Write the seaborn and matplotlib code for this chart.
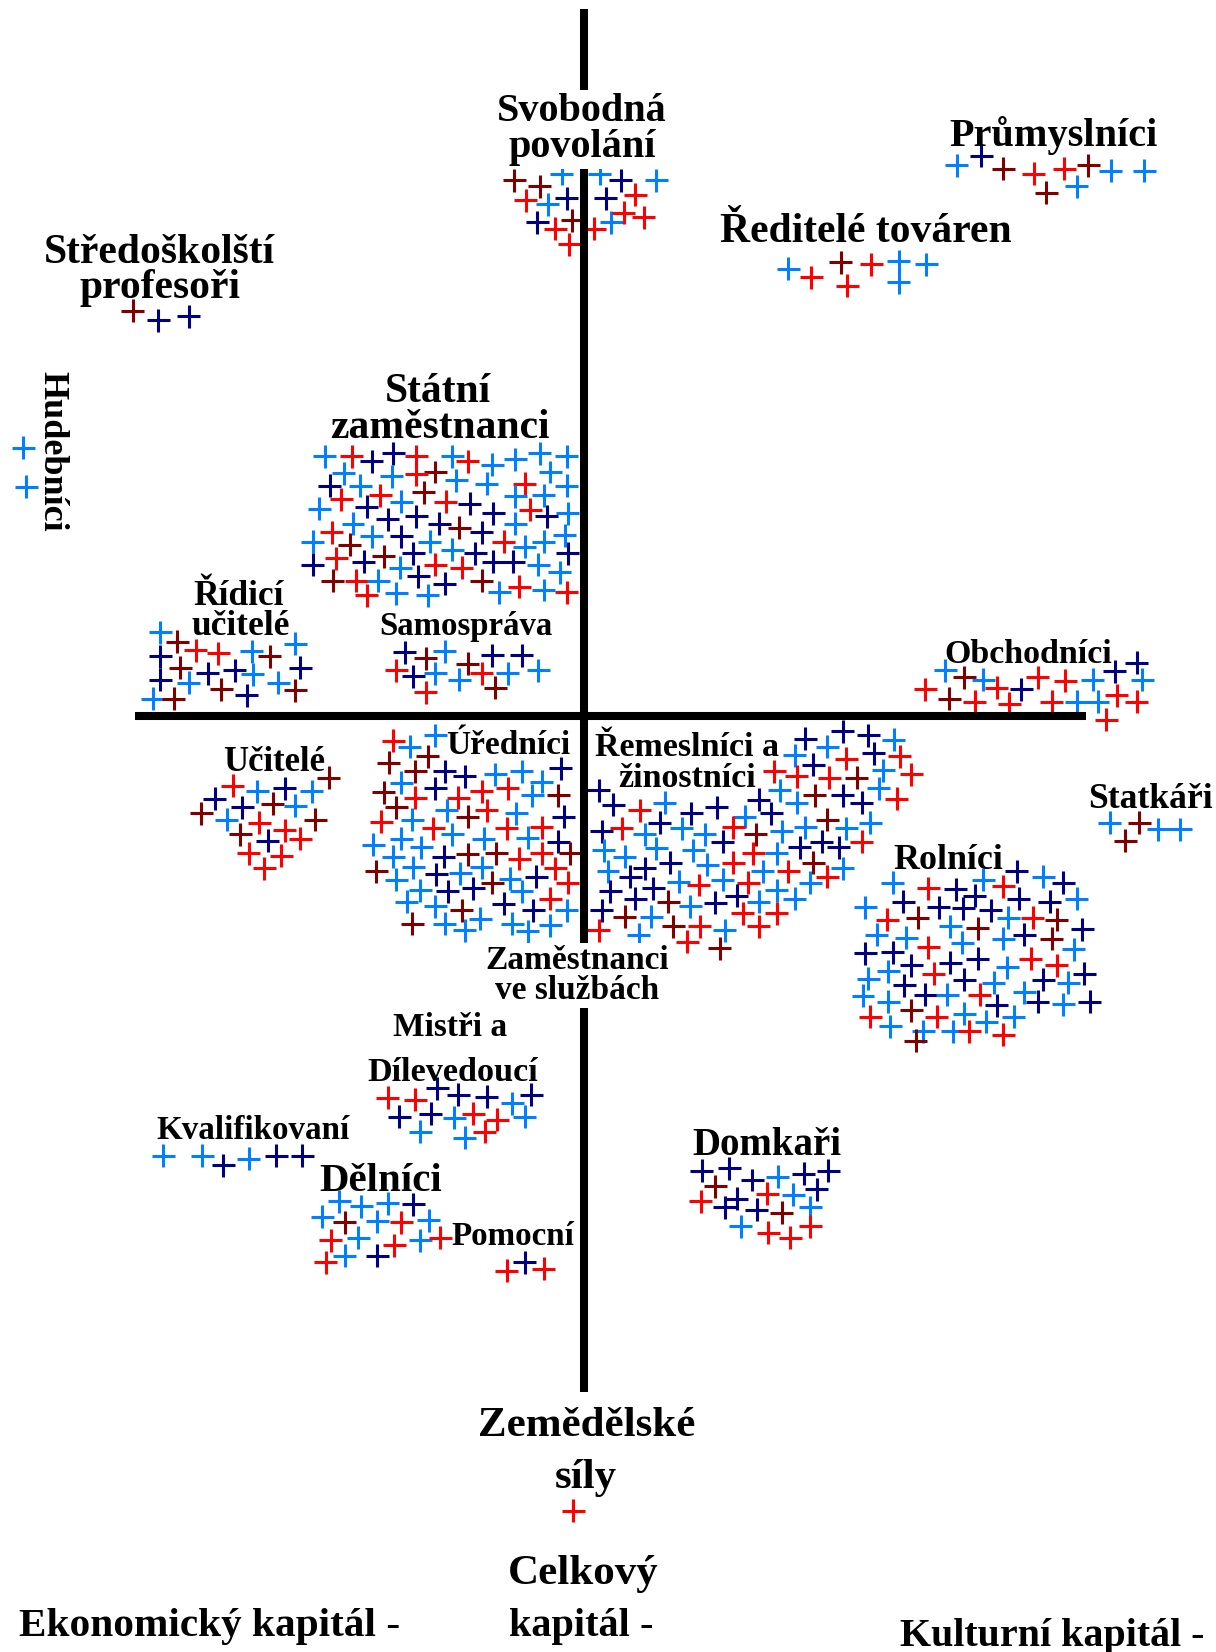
import matplotlib
matplotlib.use("Agg")
import matplotlib.pyplot as plt
import seaborn as sns
import pandas as pd

sns.set_theme(style="white")
plt.rcParams['font.family'] = ['Liberation Serif', 'DejaVu Serif']

COLORS = {"c": "#0080ff", "n": "#000080", "r": "#ff0000", "d": "#800000"}

# ---------------- data (positions) ----------------
svob_x = [488, 512, 533, 569, 589, 623, 499, 520, 538, 575, 603, 543, 510, 527, 564, 580, 592, 611, 540]
svob_y = [171, 177, 165, 165, 171, 171, 190, 194, 188, 188, 185, 209, 211, 217, 217, 211, 202, 206, 232]
svob_c = "ddccncrcnnrdnrrcrrr"

prum_x = [908, 931, 952, 981, 1010, 1033, 993, 1022, 1054, 1086]
prum_y = [157, 148, 160, 165, 160, 157, 183, 177, 162, 162]
prum_c = "cndrrddccc"

redit_x = [748, 770, 798, 804, 827, 853, 853, 879]
redit_y = [255, 263, 249, 271, 251, 248, 268, 251]
redit_c = "crdrrccc"

stred_x = [126, 150, 179]
stred_y = [295, 304, 300]
stred_c = "dnn"

hudeb_x = [22, 25]
hudeb_y = [425, 462]
hudeb_c = "cc"

statni_x = [308, 334, 353, 373, 395, 429, 444, 467, 489, 512, 538,
            326, 413, 395, 372, 433, 462, 498, 522, 538, 313, 342,
            324, 361, 402, 423, 446, 381, 489, 516, 503, 539,
            303, 348, 368, 395, 335, 417, 468, 436, 489, 519,
            315, 297, 332, 353, 381, 408, 457, 478, 536, 429, 392, 498, 516,
            319, 297, 345, 364, 413, 438, 451, 468, 487, 511, 539, 531, 380,
            316, 338, 348, 359, 397, 422, 457, 493, 376, 406, 474, 516, 538, 444]
statni_y = [433, 433, 438, 430, 433, 433, 438, 441, 436, 430, 433,
            449, 448, 450, 452, 456, 459, 459, 448, 461, 461, 461,
            474, 470, 467, 476, 478, 476, 471, 470, 484, 487,
            483, 481, 493, 490, 497, 497, 487, 501, 497, 490,
            505, 514, 517, 509, 509, 514, 505, 514, 508, 522, 525, 519, 514,
            530, 536, 533, 528, 536, 539, 525, 533, 533, 536, 525, 543, 539,
            551, 551, 565, 551, 547, 554, 551, 557, 563, 565, 562, 560, 562, 569]
statni_c = ("crnnrcrcccc"
            "cdrcccrccn" "c"
            "rrdrncccrc"
            "cnnncnndcn"
            "rcdcncnrccncc"
            "rnndrrnnncncc"
            "drrcnndrccccr")

ridici_x = [152, 168, 186, 207, 239, 256, 280, 152, 171, 197, 223, 240, 285,
            152, 179, 210, 264, 145, 165, 234, 280]
ridici_y = [600, 609, 617, 620, 618, 623, 611, 623, 634, 639, 636, 640, 634,
            645, 648, 654, 648, 663, 663, 660, 655]
ridici_c = "cdrrcdcndnncnncdccdnd"

samo_x = [384, 404, 422, 467, 495, 376, 392, 413, 444, 457, 436, 482, 511, 404, 470]
samo_y = [619, 625, 618, 622, 622, 636, 642, 639, 630, 639, 645, 639, 636, 657, 653]
samo_c = "ndcnnrncdrcccrd"

obch_x = [897, 915, 878, 901, 933, 925, 946, 958, 969, 985, 1011, 998, 1037, 1022,
          1042, 1058, 1079, 1084, 1060, 1079, 1050]
obch_y = [636, 643, 654, 663, 645, 666, 653, 668, 654, 643, 646, 666, 645, 666,
          666, 637, 629, 645, 660, 666, 683]
obch_c = "cdrdcrrrnrrrcccnncrrr"

statk_x = [1053, 1081, 1068, 1099, 1120]
statk_y = [781, 781, 798, 787, 787]
statk_c = "cddcc"

ucit_x = [221, 204, 244, 270, 296, 312, 191, 230, 259, 215, 280, 246, 299, 270,
          228, 254, 285, 236, 267, 251]
ucit_y = [746, 758, 751, 748, 751, 738, 772, 766, 763, 778, 765, 781, 778, 788,
          792, 798, 796, 810, 812, 824]
ucit_c = "rncncddndccrdrdnrrrr"

ured_x = [373, 389, 413, 369, 406, 394, 422, 441, 470, 495, 532,
          381, 364, 413, 394, 435, 457, 482, 514, 505, 530,
          376, 462, 424, 490, 535,
          362, 391, 411, 444, 429, 481, 514,
          354, 381, 400, 459, 501, 530,
          373, 421, 444, 471, 493, 514, 541,
          357, 392, 437, 457, 527,
          376, 414, 449, 467, 484, 509, 539,
          399, 425, 495, 386, 522, 478,
          413, 438, 456, 506, 538,
          391, 422, 441, 486, 501, 522]
ured_y = [703, 709, 698, 724, 718, 732, 732, 737, 735, 732, 729,
          743, 752, 748, 757, 757, 751, 748, 742, 755, 755,
          766, 769, 769, 772, 775,
          780, 778, 786, 775, 792, 786, 785,
          802, 796, 804, 796, 795, 799,
          813, 813, 811, 810, 815, 810, 810,
          827, 823, 829, 823, 824,
          835, 830, 843, 838, 834, 832, 838,
          845, 846, 846, 856, 853, 858,
          860, 864, 872, 864, 864,
          877, 877, 883, 877, 884, 878]
ured_c = ("rccdddnnccn"
          "cdnrrrrccd"
          "drccn"
          "rcrdcrr"
          "cccccn"
          "cnddrrd"
          "dcccr"
          "cnndcnr"
          "cnccrn"
          "cdcnc"
          "dccccc")

remes_x = [764, 800, 824, 848, 785, 754, 772, 803, 829, 854,
           735, 756, 787, 813, 838, 865,
           568, 740, 773, 800, 834, 851,
           582, 607, 631, 656, 680, 720, 707, 756, 732, 818,
           571, 590, 626, 612, 647, 669, 696, 717, 742, 764, 785, 803, 826,
           573, 623, 658, 686, 759, 780, 796, 818,
           593, 636, 671, 696, 715, 737, 772, 748, 800,
           577, 612, 598, 644, 663, 686, 710, 724, 769, 785,
           579, 620, 603, 634, 655, 679, 699, 720, 737, 754,
           571, 593, 618, 705, 737,
           568, 606, 639, 664, 688, 720, 652, 683]
remes_y = [701, 694, 698, 702, 709, 717, 726, 720, 715, 718,
           732, 737, 738, 738, 731, 735,
           750, 750, 755, 755, 748, 758,
           764, 769, 762, 772, 766, 759, 775, 762, 772, 762,
           789, 786, 781, 792, 786, 792, 785, 792, 789, 785, 778, 786, 781,
           807, 805, 807, 799, 804, 799, 804, 799,
           813, 819, 821, 819, 810, 810, 819, 827, 824,
           827, 824, 832, 837, 840, 835, 838, 827, 838, 832,
           846, 843, 853, 856, 860, 857, 850, 856, 845, 853,
           864, 870, 870, 867, 867,
           883, 887, 879, 879, 883, 879, 894, 900]
remes_c = ("nnnccenrnr".replace("e", "c")
           + "rrrdcr"
           + "ncdncr"
           + "nrcnnnccnn"
           + "nrncccrdccdcc"
           + "cccnnnnr"
           + "cncrrcdrc"
           + "cnncrcrccr"
           + "nnndcnnccc"
           + "ndcrr"
           + "rcdrcrrd")

roln_x = [847, 881, 907, 933, 952, 965, 990, 1009,
          821, 857, 891, 914, 925, 940, 967, 996, 1022,
          842, 871, 902, 928, 957, 980, 1003, 1027,
          832, 860, 881, 913, 952, 972, 998, 1019,
          821, 847, 865, 902, 928, 956, 978, 1003,
          824, 843, 886, 915, 943, 990, 1014, 1029,
          858, 819, 878, 899, 930, 843, 946, 972, 985, 1009, 1034,
          826, 865, 889, 915, 962,
          845, 876, 904, 920, 936, 952, 869]
roln_y = [838, 843, 844, 835, 841, 827, 832, 838,
          861, 856, 861, 862, 850, 864, 853, 856, 853,
          873, 871, 879, 881, 871, 871, 873, 882,
          887, 890, 899, 895, 891, 887, 891, 901,
          905, 904, 916, 914, 910, 918, 910, 916,
          929, 922, 924, 930, 933, 930, 933, 924,
          935, 945, 944, 944, 944, 951, 954, 942, 951, 953, 951,
          965, 959, 965, 962, 965,
          974, 979, 979, 979, 970, 982, 988]
roln_c = ("crncrncn"
          "cnnnnnnnc"
          "rdcdcrdn"
          "ccrccndc"
          "nnnnncrr"
          "ccrncncn"
          "ncncrcncncn"
          "rdrcc"
          "cccrcrd")

mistr_x = [368, 394, 415, 435, 462, 486, 504, 379, 409, 431, 449, 472, 498, 399, 441, 460]
mistr_y = [1042, 1044, 1033, 1039, 1041, 1047, 1039, 1060, 1057, 1061, 1057, 1063, 1060, 1074, 1080, 1074]
mistr_c = "rrnnncnnncrrcccr"

kval_x = [155, 192, 212, 236, 262, 287]
kval_y = [1097, 1097, 1106, 1100, 1097, 1097]
kval_c = "ccncnn"

deln_x = [322, 343, 368, 392, 306, 327, 358, 381, 407, 314, 340, 374, 399, 418, 327, 358, 309]
deln_y = [1140, 1145, 1142, 1143, 1155, 1160, 1159, 1160, 1158, 1177, 1175, 1182, 1177, 1175, 1192, 1192, 1198]
deln_c = "cccncdcrcrcrcrcnr"

pomoc_x = [481, 498, 516]
pomoc_y = [1206, 1198, 1204]
pomoc_c = "rnr"

domk_x = [666, 692, 714, 738, 763, 786, 679, 665, 699, 728, 753, 775, 688, 718, 742, 769, 703, 729, 769, 750]
domk_y = [1111, 1109, 1120, 1117, 1114, 1111, 1126, 1140, 1138, 1133, 1134, 1129, 1146, 1148, 1151, 1146, 1164, 1170, 1164, 1175]
domk_c = "nnncnndrnrcnnndccrrr"

zemed_x = [544]
zemed_y = [1434]
zemed_c = "r"

clusters = [
    (svob_x, svob_y, svob_c), (prum_x, prum_y, prum_c), (redit_x, redit_y, redit_c),
    (stred_x, stred_y, stred_c), (hudeb_x, hudeb_y, hudeb_c), (statni_x, statni_y, statni_c),
    (ridici_x, ridici_y, ridici_c), (samo_x, samo_y, samo_c), (obch_x, obch_y, obch_c),
    (statk_x, statk_y, statk_c), (ucit_x, ucit_y, ucit_c), (ured_x, ured_y, ured_c),
    (remes_x, remes_y, remes_c), (roln_x, roln_y, roln_c), (mistr_x, mistr_y, mistr_c),
    (kval_x, kval_y, kval_c), (deln_x, deln_y, deln_c), (pomoc_x, pomoc_y, pomoc_c),
    (domk_x, domk_y, domk_c), (zemed_x, zemed_y, zemed_c),
]

rows = []
for xs, ys, cs in clusters:
    n = min(len(xs), len(ys), len(cs))
    for i in range(n):
        rows.append({"x": xs[i], "y": ys[i], "col": cs[i]})
df = pd.DataFrame(rows)

# labels: text, x centre, baseline y, font size, white background
LABELS = [
    ("Svobodná", 552, 115, 29, True),
    ("povolání", 553, 149, 29, True),
    ("Průmyslníci", 1000, 139, 29, False),
    ("Ředitelé továren", 822, 230, 30, False),
    ("Středoškolští", 151, 250, 30, False),
    ("profesoři", 152, 283, 30, False),
    ("Státní", 416, 382, 30, False),
    ("zaměstnanci", 418, 416, 30, False),
    ("Řídicí", 226, 574, 25.5, False),
    ("učitelé", 228, 603, 25.5, False),
    ("Samospráva", 442, 603, 23.7, False),
    ("Obchodníci", 976, 629, 24.5, False),
    ("Učitelé", 260, 732, 25, False),
    ("Úředníci", 482, 716, 24, False),
    ("Řemeslníci a", 652, 718, 24.5, False),
    ("žinostníci", 652, 747, 24.5, False),
    ("Statkáři", 1092, 767, 25.7, False),
    ("Rolníci", 900, 825, 25.8, False),
    ("Zaměstnanci", 548, 920, 24, True),
    ("ve službách", 548, 948, 24, True),
    ("Mistři a", 427, 983, 24, False),
    ("Dílevedoucí", 430, 1026, 24.6, False),
    ("Kvalifikovaní", 240, 1081, 23.8, False),
    ("Dělníci", 361, 1130, 29.5, False),
    ("Pomocní", 487, 1182, 23.8, False),
    ("Domkaři", 728, 1096, 28, False),
    ("Zemědělské", 557, 1363, 31, False),
    ("síly", 556, 1412, 31, False),
    ("Celkový", 553, 1503, 31, False),
    ("kapitál -", 552, 1553, 29, False),
    ("Ekonomický kapitál -", 199, 1553, 29.7, False),
    ("Kulturní kapitál -", 999, 1562, 28.8, False),
]

# ---------------- figure ----------------
W, H = 1154, 1568
fig = plt.figure(figsize=(12.16, 16.52), dpi=100)
ax = fig.add_axes([0, 0, 1, 1])
sns.scatterplot(data=df, x="x", y="y", hue="col", palette=COLORS, marker="+",
                s=274, linewidth=2.2, legend=False, ax=ax, zorder=2)
ax.set_xlim(0, W)
ax.set_ylim(H, 0)
ax.set_axis_off()

# the two axes of the field
AXIS_X, AXIS_Y = 554, 680
ax.plot([AXIS_X, AXIS_X], [9, 1321], color="black", lw=5.8, solid_capstyle="butt", zorder=3)
ax.plot([128, 1031], [AXIS_Y, AXIS_Y], color="black", lw=5.8, solid_capstyle="butt", zorder=3)

for text, x, y, size, bg in LABELS:
    kw = {}
    if bg:
        kw["bbox"] = dict(facecolor="white", edgecolor="none", pad=2)
    ax.text(x, y, text, ha="center", va="baseline", fontsize=size,
            fontweight="bold", color="black", zorder=4, **kw)

ax.text(49, 428, "Hudebníci", ha="center", va="center", rotation=270,
        fontsize=26, fontweight="bold", color="black", zorder=4)

fig.savefig("out.png", dpi=100, facecolor="white")
